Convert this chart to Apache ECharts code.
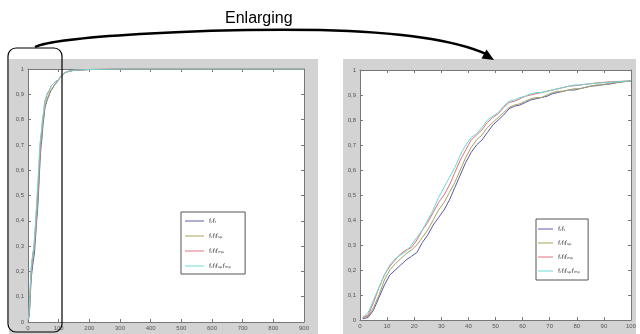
<!DOCTYPE html>
<html>
<head>
<meta charset="utf-8">
<script src="https://cdn.jsdelivr.net/npm/echarts@6/dist/echarts.min.js"></script>
<style>
  html, body { margin: 0; padding: 0; background: #fff; }
  #chart { width: 640px; height: 334px; }
</style>
</head>
<body>
<div id="chart"></div>
<script>
// x positions of the zoomed curves (0..100)
var xs = [1, 3, 5, 7, 9, 11, 13, 15, 17, 19, 21, 23, 25, 27, 29, 31, 33, 35, 37, 39,
  41, 43, 45, 47, 49, 51, 53, 55, 57, 59, 61, 63, 65, 67, 69, 71, 73, 75, 77, 79,
  81, 83, 85, 87, 89, 91, 93, 95, 97, 99, 100];

var blueVals = [0.005, 0.01, 0.04, 0.09, 0.14, 0.18, 0.20, 0.22, 0.24, 0.255, 0.27, 0.31, 0.34, 0.38, 0.41, 0.44, 0.48, 0.53, 0.58, 0.63,
  0.67, 0.70, 0.72, 0.75, 0.78, 0.80, 0.82, 0.845, 0.855, 0.86, 0.87, 0.88, 0.885, 0.89, 0.895, 0.905, 0.91, 0.915, 0.92, 0.92,
  0.925, 0.93, 0.935, 0.937, 0.94, 0.943, 0.945, 0.95, 0.953, 0.955, 0.956];
var oliveVals = [0.01, 0.015, 0.05, 0.10, 0.16, 0.20, 0.225, 0.245, 0.265, 0.28, 0.30, 0.33, 0.36, 0.40, 0.44, 0.47, 0.51, 0.55, 0.60, 0.65,
  0.69, 0.72, 0.74, 0.77, 0.79, 0.81, 0.83, 0.85, 0.86, 0.865, 0.875, 0.885, 0.89, 0.89, 0.90, 0.91, 0.915, 0.915, 0.92, 0.925,
  0.925, 0.93, 0.935, 0.94, 0.94, 0.945, 0.948, 0.95, 0.953, 0.955, 0.956];
var redVals = [0.01, 0.02, 0.07, 0.13, 0.18, 0.215, 0.24, 0.265, 0.28, 0.29, 0.32, 0.36, 0.39, 0.43, 0.47, 0.50, 0.54, 0.59, 0.64, 0.68,
  0.72, 0.74, 0.76, 0.79, 0.81, 0.825, 0.85, 0.87, 0.875, 0.885, 0.895, 0.90, 0.905, 0.91, 0.915, 0.92, 0.925, 0.93, 0.935, 0.937,
  0.94, 0.943, 0.945, 0.948, 0.95, 0.952, 0.953, 0.954, 0.955, 0.956, 0.957];
var cyanVals = [0.01, 0.03, 0.08, 0.13, 0.18, 0.22, 0.245, 0.26, 0.275, 0.30, 0.33, 0.36, 0.40, 0.44, 0.49, 0.53, 0.57, 0.61, 0.66, 0.70,
  0.73, 0.745, 0.77, 0.80, 0.815, 0.83, 0.855, 0.875, 0.88, 0.89, 0.895, 0.905, 0.91, 0.91, 0.915, 0.92, 0.925, 0.93, 0.935, 0.94,
  0.94, 0.942, 0.945, 0.947, 0.948, 0.95, 0.952, 0.953, 0.955, 0.956, 0.957];

// tail of the full-range plot (0..900)
var tailX = [110, 120, 130, 150, 200, 300, 400, 500, 600, 700, 800, 900];
var tailVals = [0.975, 0.985, 0.99, 0.995, 0.998, 1, 1, 1, 1, 1, 1, 1];

var seriesNames = ['fᵣfₜ', 'fᵣfₗfₛₚ', 'fᵣfₗfₘₚ', 'fᵣfₗfₛₚfₘₚ'];
var seriesColors = ['#5858a8', '#a8a25c', '#e0707e', '#6cd8d4'];
var seriesVals = [blueVals, oliveVals, redVals, cyanVals];

var leftXTicks = { min: 0, max: 900, interval: 100 };
var rightXTicks = { min: 0, max: 100, interval: 10 };

function pairs(xArr, yArr) {
  var out = [];
  for (var i = 0; i < xArr.length; i++) out.push([xArr[i], yArr[i]]);
  return out;
}

function yFmt(v) {
  if (v === 0) return '0';
  if (Math.abs(v - 1) < 1e-9) return '1';
  return v.toFixed(1).replace('.', ',');
}

var lblStyle = { fontSize: 6, color: '#555', fontFamily: 'Liberation Sans' };
var axLine = { lineStyle: { color: '#777', width: 1 } };

function xAx(grid, t, pos, labels) {
  return {
    type: 'value', gridIndex: grid, position: pos,
    min: t.min, max: t.max, interval: t.interval,
    axisLine: Object.assign({ onZero: false }, axLine),
    axisTick: { inside: true, length: 3, lineStyle: { color: '#777' } },
    axisLabel: Object.assign({ show: labels, margin: 3 }, lblStyle),
    splitLine: { show: false }
  };
}
function yAx(grid, pos, labels) {
  return {
    type: 'value', gridIndex: grid, position: pos,
    min: 0, max: 1, interval: 0.1,
    axisLine: Object.assign({ onZero: false }, axLine),
    axisTick: { inside: true, length: 3, lineStyle: { color: '#777' } },
    axisLabel: Object.assign({ show: labels, margin: 4, formatter: yFmt }, lblStyle),
    splitLine: { show: false }
  };
}

var series = [];
seriesVals.forEach(function (vals, i) {
  // full range plot
  series.push({
    name: seriesNames[i], type: 'line', xAxisIndex: 0, yAxisIndex: 0,
    data: pairs(xs.concat(tailX), vals.concat(tailVals)),
    symbol: 'none', lineStyle: { width: 1, color: seriesColors[i] },
    itemStyle: { color: seriesColors[i] }
  });
  // zoomed plot
  series.push({
    name: seriesNames[i], type: 'line', xAxisIndex: 2, yAxisIndex: 2,
    data: pairs(xs, vals),
    symbol: 'none', lineStyle: { width: 1, color: seriesColors[i] },
    itemStyle: { color: seriesColors[i] }
  });
});

var legendBase = {
  orient: 'vertical',
  data: seriesNames,
  backgroundColor: '#fff',
  borderColor: '#555',
  borderWidth: 1,
  borderRadius: 0,
  icon: 'rect',
  itemHeight: 1,
  selectedMode: false,
  textStyle: { fontSize: 6, color: '#444', fontFamily: 'DejaVu Sans', lineHeight: 8, height: 8 }
};

var chart = echarts.init(document.getElementById('chart'), null, { renderer: 'canvas' });
chart.setOption({
  animation: false,
  backgroundColor: '#fff',
  graphic: [
    { type: 'rect', z: -10, shape: { x: 9, y: 59, width: 309, height: 280 }, style: { fill: '#d3d3d3' } },
    { type: 'rect', z: -10, shape: { x: 343, y: 59, width: 293, height: 280 }, style: { fill: '#d3d3d3' } },
    { type: 'text', x: 225, y: 11, style: { text: 'Enlarging', fontSize: 16, fontFamily: 'Liberation Sans', fill: '#000' } },
    { type: 'bezierCurve', z: 100,
      shape: { x1: 35, y1: 47, cpx1: 55, cpy1: 37, cpx2: 200, cpy2: 28, x2: 320, y2: 30 },
      style: { fill: null, stroke: '#000', lineWidth: 2.5 } },
    { type: 'bezierCurve', z: 100,
      shape: { x1: 320, y1: 30, cpx1: 400, cpy1: 32, cpx2: 455, cpy2: 40, x2: 486, y2: 54 },
      style: { fill: null, stroke: '#000', lineWidth: 2.5 } },
    { type: 'polygon', z: 100, shape: { points: [[494, 60], [481.5, 58.5], [486.5, 49.5]] }, style: { fill: '#000' } },
    { type: 'rect', z: 100, shape: { x: 8, y: 48, width: 54, height: 284, r: 8 },
      style: { fill: null, stroke: '#000', lineWidth: 1.2 } }
  ],
  grid: [
    { left: 28, top: 69, width: 276, height: 253, show: true, backgroundColor: '#fff', borderWidth: 0 },
    { left: 360, top: 70, width: 271, height: 250, show: true, backgroundColor: '#fff', borderWidth: 0 }
  ],
  xAxis: [
    xAx(0, leftXTicks, 'bottom', true),
    xAx(0, leftXTicks, 'top', false),
    xAx(1, rightXTicks, 'bottom', true),
    xAx(1, rightXTicks, 'top', false)
  ],
  yAxis: [
    yAx(0, 'left', true),
    yAx(0, 'right', false),
    yAx(1, 'left', true),
    yAx(1, 'right', false)
  ],
  legend: [
    Object.assign({}, legendBase, { left: 181, top: 212, itemWidth: 19, itemGap: 7, padding: [5, 14, 4, 4] }),
    Object.assign({}, legendBase, { left: 536, top: 219, itemWidth: 15, itemGap: 6, padding: [6, 8, 5, 2] })
  ],
  series: series
});
</script>
</body>
</html>
